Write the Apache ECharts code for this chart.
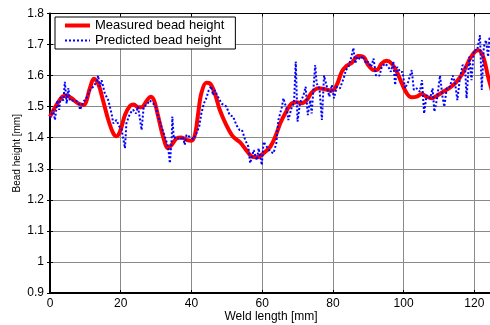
<!DOCTYPE html>
<html><head><meta charset="utf-8">
<script src="https://cdn.jsdelivr.net/npm/echarts@6/dist/echarts.min.js"></script>
<style>html,body{margin:0;padding:0;background:#fff}#c{width:490px;height:325px}</style>
</head><body><div id="c"></div>
<script>
var seriesNames = ['Measured bead height', 'Predicted bead height'];
var xTicks = [0, 20, 40, 60, 80, 100, 120];
var yTicks = [0.9, 1, 1.1, 1.2, 1.3, 1.4, 1.5, 1.6, 1.7, 1.8];
var measuredX = [0,3.3,4.7,6.1,8,9.5,11.3,12.4,13.6,15,16.5,17.9,18.8,19.8,21.2,22.6,23.7,24.9,25.9,27.3,28.4,29.4,30.6,32,33.4,34.4,35.8,37.2,38.6,40,41,41.9,42.8,44.2,45.2,46.6,48,49.9,51.8,53.7,55.5,57.1,58.5,60.4,62.3,63.7,65.1,66.5,68.4,69.8,71.2,72.6,74,75.9,77.8,79.7,81.1,82.5,83.9,85.3,87.2,88.6,90,91.5,92.4,93.8,95.2,96.6,98.1,99.5,100.9,102.3,103.7,105.1,106.5,107.9,109.4,111.2,113.1,115,116.9,118.8,120.2,121.1,122.5,123.9,125];
var measuredY = [1.468,1.53,1.535,1.527,1.51,1.505,1.56,1.59,1.575,1.52,1.457,1.414,1.405,1.42,1.473,1.502,1.507,1.498,1.498,1.518,1.532,1.521,1.468,1.403,1.366,1.377,1.398,1.401,1.393,1.39,1.41,1.478,1.543,1.577,1.575,1.543,1.49,1.44,1.403,1.386,1.36,1.339,1.337,1.35,1.371,1.403,1.446,1.478,1.511,1.514,1.511,1.521,1.545,1.559,1.556,1.551,1.57,1.612,1.632,1.641,1.663,1.661,1.634,1.618,1.618,1.639,1.648,1.639,1.612,1.575,1.543,1.53,1.532,1.541,1.532,1.527,1.535,1.548,1.561,1.58,1.612,1.655,1.677,1.682,1.661,1.596,1.55];
var predictedX = [0,0.9,1.4,2.1,2.6,3,3.8,4.2,4.7,5.2,5.6,6.8,8,8.5,9.4,10.4,11.3,12.2,13.2,13.6,14.1,14.6,15.5,16.5,17.4,17.9,18.8,19.6,20.2,21.2,21.6,22.6,23.5,24.3,24.9,25.9,26.5,27.3,28.2,29.2,29.9,30.6,31.5,32.5,33.4,33.9,34.4,34.6,35,35.8,36.7,37.6,38.1,38.6,39.5,40.5,41.4,42.2,42.8,43.5,44.2,44.9,45.6,46.1,46.6,47.5,48.5,49.9,50.8,51.8,52.7,53.6,54.3,55.2,56.1,56.6,57.6,58.5,59,59.9,60.4,61.3,62.3,63.2,64,64.6,65.6,66,67,67.4,68.4,69,69.5,70,70.7,71.7,72.3,72.9,73.6,74,75,75.4,76.2,76.9,77.5,78.3,79,79.7,80.3,81.1,82,83,83.7,84.4,85.1,85.8,86.3,86.9,87.7,88.4,89.4,90,90.8,91.5,92.2,93.2,93.8,94.8,95.7,96.4,97.1,97.6,98.2,99,99.7,100.4,101.3,102.3,102.9,103.7,104.6,105.2,105.8,106.5,107.5,108.2,108.7,109.4,110.3,111,111.5,112.2,113.1,113.9,114.5,115.2,115.9,116.7,117.4,117.8,118.6,119.2,119.9,120.8,121.6,122.1,122.7,123.3,123.9,124.3,125];
var predictedY = [1.462,1.49,1.457,1.52,1.49,1.53,1.52,1.58,1.51,1.56,1.52,1.52,1.515,1.49,1.515,1.53,1.553,1.564,1.58,1.6,1.564,1.585,1.543,1.52,1.478,1.446,1.457,1.436,1.43,1.366,1.446,1.478,1.49,1.478,1.5,1.425,1.5,1.505,1.52,1.51,1.5,1.468,1.436,1.403,1.371,1.318,1.393,1.468,1.398,1.403,1.393,1.403,1.377,1.409,1.403,1.395,1.414,1.436,1.478,1.51,1.527,1.553,1.566,1.537,1.553,1.532,1.51,1.5,1.473,1.468,1.441,1.425,1.425,1.393,1.371,1.318,1.36,1.328,1.366,1.312,1.387,1.371,1.355,1.35,1.382,1.457,1.5,1.527,1.49,1.457,1.5,1.511,1.645,1.452,1.511,1.537,1.564,1.473,1.521,1.478,1.634,1.575,1.559,1.457,1.6,1.564,1.532,1.57,1.527,1.564,1.559,1.59,1.618,1.628,1.655,1.689,1.639,1.661,1.652,1.663,1.639,1.645,1.628,1.655,1.6,1.6,1.628,1.639,1.628,1.612,1.645,1.57,1.628,1.612,1.612,1.559,1.58,1.618,1.554,1.559,1.548,1.585,1.478,1.537,1.527,1.559,1.484,1.521,1.6,1.532,1.5,1.559,1.564,1.6,1.58,1.521,1.59,1.634,1.628,1.527,1.661,1.585,1.682,1.682,1.73,1.554,1.693,1.714,1.661,1.725,1.7];

function pairs(xs, ys) { return xs.map(function (x, i) { return [x, ys[i]]; }); }
var FONT = 'Liberation Sans, Arial, sans-serif';
var chart = echarts.init(document.getElementById('c'), null, {renderer: 'canvas'});
var gridStyle = {show: true, lineStyle: {color: '#8a8a8a', width: 1, type: 'solid'}};
chart.setOption({
  animation: false,
  backgroundColor: '#fff',
  textStyle: {fontFamily: FONT},
  grid: {left: 50, top: 13.5, width: 442, height: 279.5, show: false, outerBoundsMode: 'none', containLabel: false},
  legend: {
    orient: 'vertical', left: 55, top: 17,
    backgroundColor: '#fff', borderColor: '#000', borderWidth: 1, borderRadius: 0,
    padding: [2, 11, 2, 8], itemGap: 2, itemWidth: 25, itemHeight: 13,
    itemStyle: {color: 'rgba(0,0,0,0)', borderWidth: 0, opacity: 0},
    textStyle: {fontFamily: FONT, fontSize: 13, color: '#000'},
    data: [
      {name: seriesNames[0], lineStyle: {color: '#ff0000', width: 4}},
      {name: seriesNames[1], lineStyle: {color: '#0000ff', width: 2, type: [2, 2]}}
    ]
  },
  xAxis: [{
    type: 'value', min: 0, max: 125, interval: 20,
    name: 'Weld length [mm]', nameLocation: 'middle', nameGap: 18, nameMoveOverlap: false,
    nameTextStyle: {fontFamily: FONT, fontSize: 12, color: '#000'},
    axisLine: {show: true, onZero: false, lineStyle: {color: '#000', width: 2}},
    axisTick: {show: true, inside: true, length: 3, lineStyle: {color: '#000'}},
    axisLabel: {fontFamily: FONT, fontSize: 12, color: '#000', margin: 5,
      formatter: function (v) { return xTicks.indexOf(v) >= 0 ? String(v) : ''; }},
    splitLine: gridStyle
  }, {
    type: 'value', position: 'top', min: 0, max: 125, interval: 20,
    axisLine: {show: true, lineStyle: {color: '#000', width: 1}},
    axisTick: {show: true, inside: true, length: 3, lineStyle: {color: '#000'}},
    axisLabel: {show: false}, splitLine: {show: false}
  }],
  yAxis: [{
    type: 'value', min: 0.9, max: 1.8, interval: 0.1,
    name: 'Bead height [mm]', nameLocation: 'middle', nameGap: 28, nameRotate: 90, nameMoveOverlap: false,
    nameTextStyle: {fontFamily: FONT, fontSize: 10, color: '#000'},
    axisLine: {show: true, lineStyle: {color: '#000', width: 2}},
    axisTick: {show: true, inside: true, length: 3, lineStyle: {color: '#000'}},
    axisLabel: {fontFamily: FONT, fontSize: 12, color: '#000', margin: 6,
      formatter: function (v) {
        var r = Math.round(v * 10) / 10;
        return yTicks.indexOf(r) >= 0 ? String(r) : '';
      }},
    splitLine: gridStyle
  }, {
    type: 'value', position: 'right', min: 0.9, max: 1.8, interval: 0.1,
    axisLine: {show: true, lineStyle: {color: '#000', width: 1}},
    axisTick: {show: true, inside: true, length: 3, lineStyle: {color: '#000'}},
    axisLabel: {show: false}, splitLine: {show: false}
  }],
  series: [{
    name: seriesNames[0], type: 'line', symbol: 'none', smooth: 0.35,
    data: pairs(measuredX, measuredY),
    lineStyle: {color: '#ff0000', width: 4}, itemStyle: {color: '#ff0000'}, z: 2
  }, {
    name: seriesNames[1], type: 'line', symbol: 'none', smooth: false,
    data: pairs(predictedX, predictedY),
    lineStyle: {color: '#0000ff', width: 2, type: [2, 2]}, itemStyle: {color: '#0000ff'}, z: 3
  }]
});
</script></body></html>
